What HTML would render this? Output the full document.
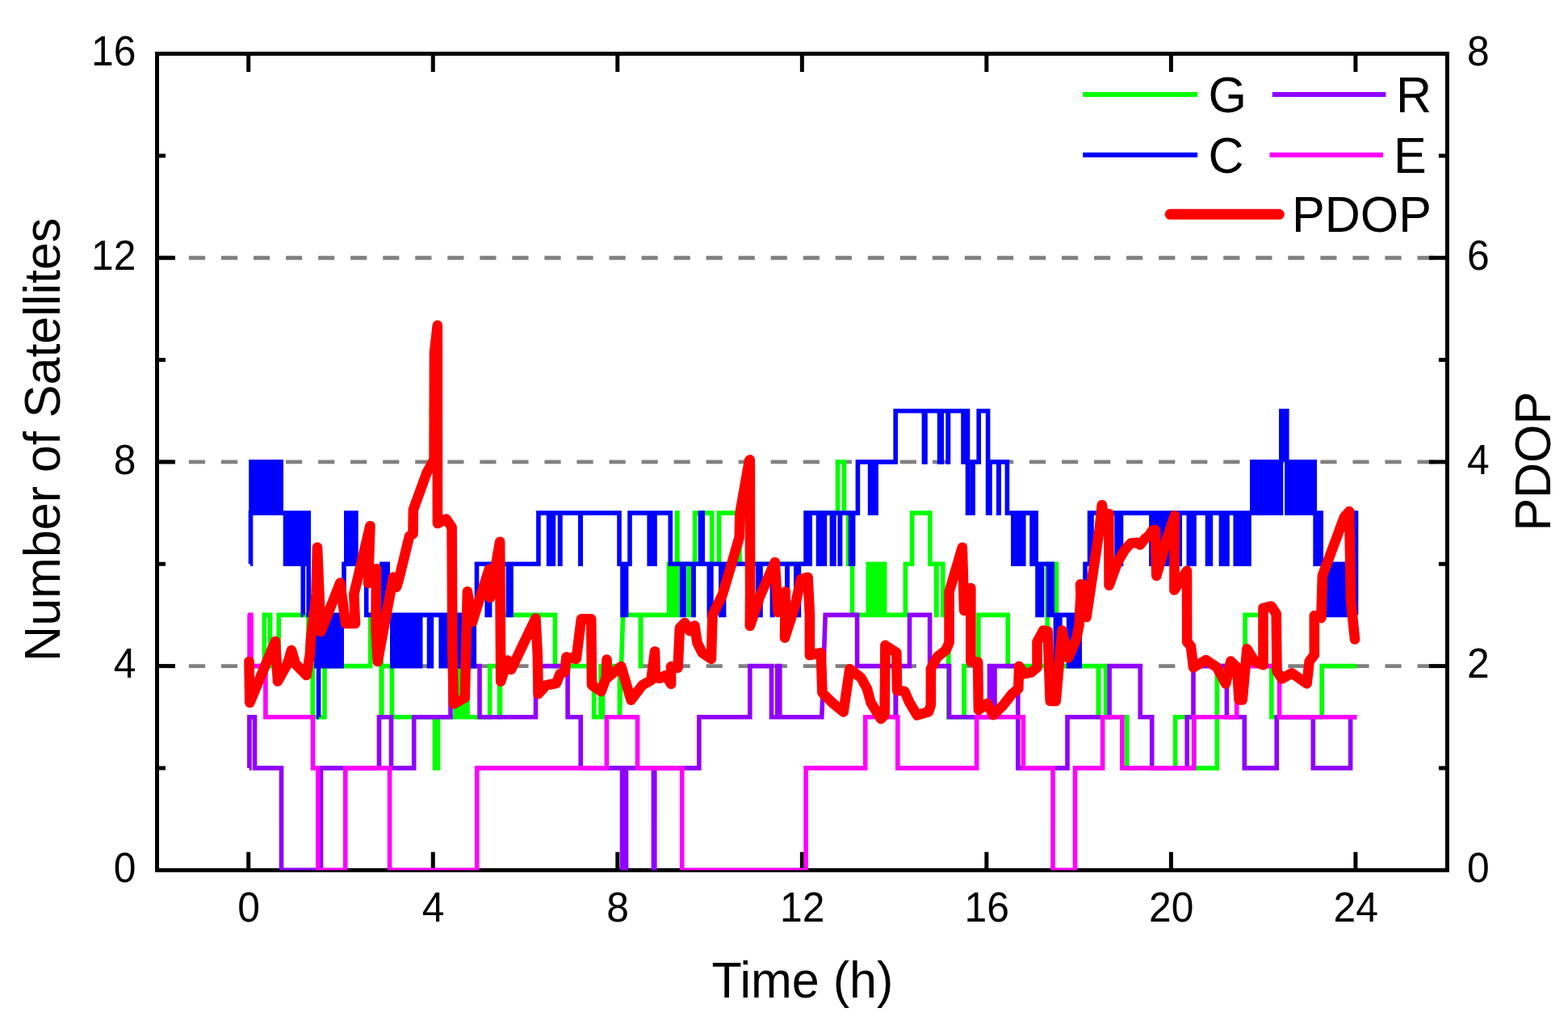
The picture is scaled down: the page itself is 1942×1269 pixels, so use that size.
<!DOCTYPE html>
<html lang="en"><head><meta charset="utf-8"><title>Number of Satellites and PDOP</title>
<style>html,body{margin:0;padding:0;background:#fff;}body{width:1942px;height:1269px;overflow:hidden;}svg{display:block;}text{font-family:"Liberation Sans",Arial,Helvetica,sans-serif;fill:#000;}.tk{font-size:49.8px;}.tt{font-size:61px;}.lg{font-size:61px;}</style></head><body>
<svg width="1942" height="1269" viewBox="0 0 1942 1269" role="img" aria-label="Number of satellites (G, R, C, E) and PDOP versus time">
<rect x="0" y="0" width="1942" height="1269" fill="#ffffff"/>
<g stroke="#808080" stroke-width="4.9" fill="none" stroke-dasharray="20.2 19.84">
<line x1="193.90" y1="824.60" x2="1792.40" y2="824.60"/>
<line x1="193.90" y1="571.90" x2="1792.40" y2="571.90"/>
<line x1="193.90" y1="319.20" x2="1792.40" y2="319.20"/>
</g>
<g stroke="#000" stroke-width="5.0" fill="none" stroke-linecap="butt">
<rect x="194.50" y="66.50" width="1597.90" height="1010.80"/>
<line x1="307.75" y1="1077.30" x2="307.75" y2="1054.80"/>
<line x1="307.75" y1="66.50" x2="307.75" y2="89.00"/>
<line x1="536.27" y1="1077.30" x2="536.27" y2="1054.80"/>
<line x1="536.27" y1="66.50" x2="536.27" y2="89.00"/>
<line x1="764.80" y1="1077.30" x2="764.80" y2="1054.80"/>
<line x1="764.80" y1="66.50" x2="764.80" y2="89.00"/>
<line x1="993.33" y1="1077.30" x2="993.33" y2="1054.80"/>
<line x1="993.33" y1="66.50" x2="993.33" y2="89.00"/>
<line x1="1221.85" y1="1077.30" x2="1221.85" y2="1054.80"/>
<line x1="1221.85" y1="66.50" x2="1221.85" y2="89.00"/>
<line x1="1450.38" y1="1077.30" x2="1450.38" y2="1054.80"/>
<line x1="1450.38" y1="66.50" x2="1450.38" y2="89.00"/>
<line x1="1678.90" y1="1077.30" x2="1678.90" y2="1054.80"/>
<line x1="1678.90" y1="66.50" x2="1678.90" y2="89.00"/>
<line x1="194.50" y1="824.60" x2="217.00" y2="824.60"/>
<line x1="1792.40" y1="824.60" x2="1769.90" y2="824.60"/>
<line x1="194.50" y1="571.90" x2="217.00" y2="571.90"/>
<line x1="1792.40" y1="571.90" x2="1769.90" y2="571.90"/>
<line x1="194.50" y1="319.20" x2="217.00" y2="319.20"/>
<line x1="1792.40" y1="319.20" x2="1769.90" y2="319.20"/>
<line x1="194.50" y1="950.95" x2="205.00" y2="950.95"/>
<line x1="1792.40" y1="950.95" x2="1781.90" y2="950.95"/>
<line x1="194.50" y1="698.25" x2="205.00" y2="698.25"/>
<line x1="1792.40" y1="698.25" x2="1781.90" y2="698.25"/>
<line x1="194.50" y1="445.55" x2="205.00" y2="445.55"/>
<line x1="1792.40" y1="445.55" x2="1781.90" y2="445.55"/>
<line x1="194.50" y1="192.85" x2="205.00" y2="192.85"/>
<line x1="1792.40" y1="192.85" x2="1781.90" y2="192.85"/>
</g>
<clipPath id="pc"><rect x="194.50" y="66.50" width="1597.90" height="1010.80"/></clipPath>
<g clip-path="url(#pc)">
<g fill="none" stroke="#00ff00" stroke-width="5.6" stroke-linejoin="miter" stroke-linecap="butt">
<polyline points="310.0,824.6 327.4,824.6 327.4,761.4 334.5,761.4 334.5,824.6 345.2,824.6 345.2,761.4 382.0,761.4 382.0,824.6 387.3,824.6 387.3,887.8 402.0,887.8 402.0,824.6 458.7,824.6 458.7,761.4 472.3,761.4 472.3,887.8 472.8,887.8 472.8,824.6 485.4,824.6 485.4,887.8 538.5,887.8 538.5,950.9 542.5,950.9 542.5,887.8 564.0,887.8 564.0,824.6 567.5,824.6 567.5,887.8 570.5,887.8 570.5,824.6 573.5,824.6 573.5,887.8 576.0,887.8 576.0,824.6 579.0,824.6 579.0,887.8 606.6,887.8 606.6,824.6 618.6,824.6 618.6,887.8 619.4,887.8 619.4,761.4 687.4,761.4 687.4,824.6 735.6,824.6 735.6,887.8 744.0,887.8 744.0,824.6 745.0,824.6 745.0,887.8 746.5,887.8 746.5,824.6 767.4,824.6 767.4,887.8 767.4,887.8 771.6,761.4 793.3,761.4 793.3,824.6 793.7,824.6 793.7,761.4 828.6,761.4 828.6,698.2 831.0,698.2 831.0,761.4 833.5,761.4 833.5,698.2 836.0,698.2 836.0,761.4 838.5,761.4 838.5,635.1 839.0,635.1 839.0,698.2 853.0,698.2 853.0,761.4 853.4,761.4 853.4,698.2 860.6,698.2 860.6,635.1 881.7,635.1 881.7,698.2 890.5,698.2 890.5,635.1 916.0,635.1 916.0,698.2 1000.0,698.2 1000.0,635.1 1037.5,635.1 1037.5,571.9 1045.5,571.9 1045.5,635.1 1050.5,635.1 1050.5,698.2 1055.5,698.2 1055.5,761.4 1075.3,761.4 1075.3,698.2 1077.8,698.2 1077.8,761.4 1080.3,761.4 1080.3,698.2 1082.8,698.2 1082.8,761.4 1085.2,761.4 1085.2,698.2 1087.7,698.2 1087.7,761.4 1090.2,761.4 1090.2,698.2 1092.7,698.2 1092.7,761.4 1095.2,761.4 1095.2,698.2 1095.6,698.2 1095.6,761.4 1121.4,761.4 1121.4,698.2 1129.6,698.2 1129.6,635.1 1151.8,635.1 1151.8,698.2 1159.5,698.2 1159.5,761.4 1159.9,761.4 1159.9,698.2 1167.8,698.2 1167.8,761.4 1174.8,761.4 1174.8,887.8 1193.9,887.8 1193.9,824.6 1194.3,824.6 1194.3,887.8 1211.9,887.8 1211.9,761.4 1248.2,761.4 1248.2,824.6 1297.2,824.6 1297.2,698.2 1308.4,698.2 1308.4,824.6 1360.3,824.6 1360.3,887.8 1360.7,887.8 1360.7,824.6 1369.5,824.6 1369.5,887.8 1395.7,887.8 1395.7,950.9 1455.6,950.9 1455.6,887.8 1479.0,887.8 1479.0,950.9 1507.3,950.9 1507.3,824.6 1542.1,824.6 1542.1,761.4 1564.5,761.4 1564.5,824.6 1574.8,824.6 1574.8,887.8 1637.1,887.8 1637.1,824.6 1680.3,824.6"/>
</g>
<g fill="none" stroke="#9000ff" stroke-width="5.6" stroke-linejoin="miter" stroke-linecap="butt">
<polyline points="308.8,950.9 308.9,950.9 308.9,887.8 315.5,887.8 315.5,950.9 348.5,950.9 348.5,1077.3 397.5,1077.3 397.5,950.9 469.5,950.9 469.5,887.8 484.5,887.8 484.5,950.9 512.7,950.9 512.7,887.8 558.0,887.8 558.0,824.6 594.0,824.6 594.0,887.8 663.5,887.8 663.5,824.6 703.1,824.6 703.1,887.8 719.2,887.8 719.2,950.9 770.5,950.9 770.5,1077.3 775.5,1077.3 775.5,950.9 809.4,950.9 809.4,1077.3 810.8,1077.3 810.8,950.9 865.8,950.9 865.8,887.8 928.8,887.8 928.8,824.6 955.5,824.6 955.5,887.8 962.7,887.8 962.7,824.6 965.8,824.6 965.8,887.8 1017.8,887.8 1022.2,761.4 1061.6,761.4 1061.6,824.6 1109.2,824.6 1109.2,887.8 1109.6,887.8 1109.6,824.6 1126.5,824.6 1126.5,761.4 1151.6,761.4 1151.6,824.6 1175.6,824.6 1175.6,887.8 1225.5,887.8 1225.5,824.6 1228.5,824.6 1228.5,887.8 1232.0,887.8 1232.0,824.6 1260.8,824.6 1260.8,950.9 1322.0,950.9 1322.0,887.8 1374.1,887.8 1374.1,824.6 1412.2,824.6 1412.2,887.8 1426.7,887.8 1426.7,950.9 1470.2,950.9 1470.2,887.8 1478.0,887.8 1478.0,824.6 1519.4,824.6 1519.4,887.8 1541.3,887.8 1541.3,950.9 1581.2,950.9 1581.2,887.8 1626.3,887.8 1626.3,950.9 1672.6,950.9 1672.6,887.8 1680.3,887.8"/>
</g>
<g fill="none" stroke="#0000ff" stroke-width="5.6" stroke-linejoin="miter" stroke-linecap="butt">
<polyline points="310.0,698.2 310.5,698.2 310.5,635.1 311.0,635.1 311.0,571.9 313.5,571.9 313.5,635.1 316.0,635.1 316.0,571.9 318.4,571.9 318.4,635.1 320.9,635.1 320.9,571.9 323.4,571.9 323.4,635.1 325.9,635.1 325.9,571.9 328.4,571.9 328.4,635.1 330.8,635.1 330.8,571.9 333.3,571.9 333.3,635.1 335.8,635.1 335.8,571.9 338.3,571.9 338.3,635.1 340.8,635.1 340.8,571.9 343.2,571.9 343.2,635.1 345.7,635.1 345.7,571.9 348.2,571.9 348.2,635.1 348.6,635.1 348.6,635.1 351.0,635.1 351.0,635.1 353.5,635.1 353.5,698.2 356.1,698.2 356.1,635.1 358.6,635.1 358.6,698.2 361.1,698.2 361.1,635.1 363.7,635.1 363.7,698.2 366.2,698.2 366.2,635.1 368.7,635.1 368.7,698.2 371.3,698.2 371.3,635.1 373.8,635.1 373.8,698.2 376.3,698.2 376.3,635.1 378.9,635.1 378.9,698.2 381.4,698.2 381.4,635.1 382.2,635.1 382.2,761.4 391.8,761.4 391.8,824.6 394.2,824.6 394.2,761.4 396.6,761.4 396.6,824.6 399.0,824.6 399.0,761.4 401.5,761.4 401.5,824.6 403.9,824.6 403.9,761.4 406.3,761.4 406.3,824.6 408.7,824.6 408.7,761.4 411.1,761.4 411.1,824.6 413.5,824.6 413.5,761.4 416.0,761.4 416.0,824.6 418.4,824.6 418.4,761.4 420.8,761.4 420.8,824.6 423.2,824.6 423.2,761.4 423.5,761.4 423.5,761.4 426.0,761.4 426.0,698.2 428.8,698.2 428.8,635.1 431.2,635.1 431.2,698.2 433.6,698.2 433.6,635.1 436.1,635.1 436.1,698.2 438.5,698.2 438.5,635.1 440.9,635.1 440.9,698.2 441.2,698.2 441.2,698.2 453.7,698.2 453.7,761.4 472.8,761.4 472.8,698.2 475.3,698.2 475.3,761.4 477.7,761.4 477.7,698.2 480.2,698.2 480.2,761.4 480.4,761.4 480.4,761.4 485.8,761.4 485.8,824.6 488.3,824.6 488.3,761.4 490.8,761.4 490.8,824.6 493.2,824.6 493.2,761.4 495.7,761.4 495.7,824.6 498.2,824.6 498.2,761.4 500.7,761.4 500.7,824.6 503.1,824.6 503.1,761.4 505.6,761.4 505.6,824.6 508.1,824.6 508.1,761.4 510.6,761.4 510.6,824.6 513.1,824.6 513.1,761.4 515.5,761.4 515.5,824.6 518.0,824.6 518.0,761.4 520.5,761.4 520.5,824.6 520.7,824.6 520.7,761.4 531.5,761.4 531.5,824.6 534.4,824.6 534.4,761.4 534.6,761.4 534.6,761.4 546.2,761.4 546.2,824.6 548.8,824.6 548.8,761.4 551.3,761.4 551.3,824.6 553.9,824.6 553.9,761.4 556.4,761.4 556.4,824.6 559.0,824.6 559.0,761.4 561.5,761.4 561.5,824.6 564.1,824.6 564.1,761.4 566.6,761.4 566.6,824.6 569.1,824.6 569.1,761.4 571.7,761.4 571.7,824.6 574.2,824.6 574.2,761.4 576.8,761.4 576.8,824.6 579.4,824.6 579.4,761.4 581.9,761.4 581.9,824.6 584.5,824.6 584.5,761.4 587.0,761.4 587.0,824.6 587.3,824.6 587.3,761.4 590.5,761.4 590.5,698.2 603.2,698.2 603.2,761.4 603.6,761.4 603.6,698.2 606.2,698.2 606.2,761.4 606.6,761.4 606.6,698.2 629.4,698.2 629.4,761.4 629.8,761.4 629.8,698.2 632.6,698.2 632.6,761.4 633.0,761.4 633.0,698.2 666.9,698.2 666.9,635.1 679.6,635.1 679.6,698.2 680.0,698.2 680.0,635.1 685.0,635.1 685.0,698.2 685.4,698.2 685.4,635.1 693.5,635.1 693.5,698.2 693.9,698.2 693.9,635.1 718.8,635.1 718.8,698.2 719.2,698.2 719.2,635.1 767.0,635.1 767.0,698.2 771.0,698.2 771.0,761.4 775.6,761.4 775.6,698.2 780.0,698.2 780.0,635.1 804.2,635.1 804.2,698.2 806.5,698.2 806.5,635.1 808.7,635.1 808.7,698.2 811.0,698.2 811.0,635.1 811.3,635.1 811.3,635.1 830.3,635.1 830.3,698.2 844.4,698.2 844.4,761.4 844.8,761.4 844.8,698.2 846.6,698.2 846.6,761.4 847.0,761.4 847.0,698.2 858.7,698.2 858.7,761.4 859.1,761.4 859.1,698.2 867.4,698.2 867.4,635.1 870.2,635.1 870.2,698.2 878.3,698.2 878.3,761.4 878.7,761.4 878.7,698.2 880.5,698.2 880.5,761.4 880.9,761.4 880.9,698.2 892.8,698.2 892.8,761.4 893.2,761.4 893.2,698.2 896.2,698.2 896.2,761.4 896.6,761.4 896.6,698.2 938.7,698.2 938.7,761.4 939.1,761.4 939.1,698.2 941.6,698.2 941.6,761.4 942.0,761.4 942.0,698.2 956.4,698.2 956.4,761.4 956.8,761.4 956.8,698.2 974.8,698.2 974.8,761.4 975.2,761.4 975.2,698.2 985.8,698.2 985.8,761.4 986.2,761.4 986.2,698.2 989.0,698.2 989.0,761.4 989.4,761.4 989.4,698.2 998.0,698.2 998.0,635.1 1000.5,635.1 1000.5,698.2 1003.2,698.2 1003.2,635.1 1013.5,635.1 1013.5,698.2 1014.0,698.2 1014.0,635.1 1015.0,635.1 1015.0,698.2 1015.4,698.2 1015.4,635.1 1019.6,635.1 1019.6,698.2 1020.0,698.2 1020.0,635.1 1021.0,635.1 1021.0,698.2 1021.4,698.2 1021.4,635.1 1030.4,635.1 1030.4,698.2 1030.8,698.2 1030.8,635.1 1032.5,635.1 1032.5,698.2 1032.9,698.2 1032.9,635.1 1040.2,635.1 1040.2,698.2 1040.6,698.2 1040.6,635.1 1053.6,635.1 1053.6,698.2 1054.0,698.2 1054.0,635.1 1056.2,635.1 1056.2,698.2 1056.6,698.2 1056.6,635.1 1062.4,635.1 1062.4,571.9 1077.6,571.9 1077.6,635.1 1080.1,635.1 1080.1,571.9 1082.6,571.9 1082.6,635.1 1085.1,635.1 1085.1,571.9 1085.3,571.9 1085.3,571.9 1109.2,571.9 1109.2,508.7 1144.4,508.7 1144.4,571.9 1144.8,571.9 1144.8,508.7 1145.6,508.7 1145.6,571.9 1146.0,571.9 1146.0,508.7 1163.6,508.7 1163.6,571.9 1164.0,571.9 1164.0,508.7 1165.8,508.7 1165.8,571.9 1166.2,571.9 1166.2,508.7 1174.1,508.7 1174.1,571.9 1174.5,571.9 1174.5,508.7 1193.0,508.7 1193.0,571.9 1193.4,571.9 1193.4,508.7 1196.0,508.7 1196.0,571.9 1196.4,571.9 1196.4,508.7 1198.5,508.7 1198.5,635.1 1199.0,635.1 1199.0,571.9 1204.7,571.9 1204.7,635.1 1205.1,635.1 1205.1,571.9 1212.2,571.9 1212.2,508.7 1223.6,508.7 1223.6,635.1 1226.0,635.1 1226.0,571.9 1236.7,571.9 1236.7,635.1 1237.1,635.1 1237.1,571.9 1247.4,571.9 1247.4,635.1 1254.8,635.1 1254.8,698.2 1257.4,698.2 1257.4,635.1 1260.0,635.1 1260.0,698.2 1262.6,698.2 1262.6,635.1 1265.2,635.1 1265.2,698.2 1267.8,698.2 1267.8,635.1 1268.0,635.1 1268.0,635.1 1278.0,635.1 1278.0,698.2 1280.6,698.2 1280.6,635.1 1283.2,635.1 1283.2,698.2 1283.5,698.2 1283.5,698.2 1285.0,698.2 1285.0,761.4 1287.6,761.4 1287.6,698.2 1290.2,698.2 1290.2,761.4 1290.5,761.4 1290.5,698.2 1298.8,698.2 1298.8,761.4 1301.0,761.4 1301.0,698.2 1303.2,698.2 1303.2,761.4 1303.4,761.4 1303.4,761.4 1307.4,761.4 1307.4,824.6 1310.0,824.6 1310.0,761.4 1312.6,761.4 1312.6,824.6 1312.9,824.6 1312.9,761.4 1323.6,761.4 1323.6,824.6 1326.3,824.6 1326.3,761.4 1329.0,761.4 1329.0,824.6 1331.8,824.6 1331.8,761.4 1334.5,761.4 1334.5,824.6 1337.2,824.6 1337.2,761.4 1337.4,761.4 1337.4,761.4 1344.0,761.4 1344.0,698.2 1349.6,698.2 1349.6,635.1 1351.6,635.1 1351.6,698.2 1352.0,698.2 1352.0,635.1 1383.1,635.1 1383.1,698.2 1385.7,698.2 1385.7,635.1 1388.2,635.1 1388.2,698.2 1388.5,698.2 1388.5,635.1 1425.9,635.1 1425.9,698.2 1426.5,698.2 1426.5,635.1 1426.7,635.1 1426.7,635.1 1432.0,635.1 1432.0,698.2 1434.3,698.2 1434.3,635.1 1436.7,635.1 1436.7,698.2 1439.0,698.2 1439.0,635.1 1439.3,635.1 1439.3,635.1 1444.5,635.1 1444.5,698.2 1446.9,698.2 1446.9,635.1 1449.3,635.1 1449.3,698.2 1451.7,698.2 1451.7,635.1 1454.0,635.1 1454.0,698.2 1456.4,698.2 1456.4,635.1 1458.8,635.1 1458.8,698.2 1461.2,698.2 1461.2,635.1 1461.5,635.1 1461.5,635.1 1472.3,635.1 1472.3,698.2 1474.5,698.2 1474.5,635.1 1476.8,635.1 1476.8,698.2 1479.0,698.2 1479.0,635.1 1479.3,635.1 1479.3,635.1 1495.5,635.1 1495.5,698.2 1497.3,698.2 1497.3,635.1 1499.1,635.1 1499.1,698.2 1499.4,698.2 1499.4,635.1 1512.4,635.1 1512.4,698.2 1514.9,698.2 1514.9,635.1 1517.5,635.1 1517.5,698.2 1520.0,698.2 1520.0,635.1 1520.3,635.1 1520.3,635.1 1530.2,635.1 1530.2,698.2 1532.6,698.2 1532.6,635.1 1535.0,635.1 1535.0,698.2 1537.4,698.2 1537.4,635.1 1539.8,635.1 1539.8,698.2 1542.2,698.2 1542.2,635.1 1544.6,635.1 1544.6,698.2 1547.0,698.2 1547.0,635.1 1547.3,635.1 1547.3,635.1 1548.2,635.1 1548.2,635.1 1550.8,635.1 1550.8,571.9 1553.3,571.9 1553.3,635.1 1555.9,635.1 1555.9,571.9 1558.4,571.9 1558.4,635.1 1561.0,635.1 1561.0,571.9 1563.5,571.9 1563.5,635.1 1566.1,635.1 1566.1,571.9 1568.6,571.9 1568.6,635.1 1571.2,635.1 1571.2,571.9 1573.7,571.9 1573.7,635.1 1576.3,635.1 1576.3,571.9 1578.8,571.9 1578.8,635.1 1581.4,635.1 1581.4,571.9 1583.9,571.9 1583.9,635.1 1586.5,635.1 1586.5,571.9 1586.8,571.9 1586.8,508.7 1593.8,508.7 1593.8,635.1 1594.0,635.1 1594.0,635.1 1596.4,635.1 1596.4,571.9 1598.9,571.9 1598.9,635.1 1601.3,635.1 1601.3,571.9 1603.8,571.9 1603.8,635.1 1606.2,635.1 1606.2,571.9 1608.7,571.9 1608.7,635.1 1611.1,635.1 1611.1,571.9 1613.5,571.9 1613.5,635.1 1616.0,635.1 1616.0,571.9 1618.4,571.9 1618.4,635.1 1620.9,635.1 1620.9,571.9 1623.3,571.9 1623.3,635.1 1625.8,635.1 1625.8,571.9 1628.2,571.9 1628.2,635.1 1628.5,635.1 1628.5,635.1 1629.1,635.1 1629.1,698.2 1631.3,698.2 1631.3,635.1 1633.6,635.1 1633.6,698.2 1635.8,698.2 1635.8,635.1 1636.2,635.1 1636.2,698.2 1642.8,698.2 1642.8,761.4 1645.3,761.4 1645.3,698.2 1647.8,698.2 1647.8,761.4 1650.4,761.4 1650.4,698.2 1652.9,698.2 1652.9,761.4 1655.4,761.4 1655.4,698.2 1657.9,698.2 1657.9,761.4 1660.4,761.4 1660.4,698.2 1663.0,698.2 1663.0,761.4 1665.5,761.4 1665.5,698.2 1668.0,698.2 1668.0,761.4 1670.0,761.4 1670.0,761.4 1672.4,761.4 1672.4,635.1 1674.8,635.1 1674.8,761.4 1677.1,761.4 1677.1,635.1 1679.5,635.1 1679.5,761.4 1680.5,761.4"/>
<polyline points="375.3,698.2 375.3,698.2 375.3,761.4 375.4,761.4"/>
<polyline points="394.6,824.6 394.6,824.6 394.6,887.8 394.7,887.8"/>
<polyline points="1590.3,571.9 1590.3,571.9 1590.3,508.7 1590.4,508.7"/>
</g>
<g fill="none" stroke="#ff00ff" stroke-width="5.6" stroke-linejoin="miter" stroke-linecap="butt">
<polyline points="309.0,761.4 309.1,761.4 309.1,824.6 309.6,824.6 309.6,761.4 311.1,761.4 311.1,824.6 328.9,824.6 328.9,887.8 387.5,887.8 387.5,950.9 393.8,950.9 393.8,1077.3 427.8,1077.3 427.8,950.9 482.6,950.9 482.6,1077.3 590.7,1077.3 590.7,950.9 751.4,950.9 751.4,887.8 789.5,887.8 789.5,950.9 844.7,950.9 844.7,1077.3 998.1,1077.3 998.1,950.9 1071.7,950.9 1071.7,887.8 1111.8,887.8 1111.8,950.9 1209.6,950.9 1209.6,887.8 1267.4,887.8 1267.4,950.9 1304.0,950.9 1304.0,1077.3 1331.5,1077.3 1331.5,950.9 1365.6,950.9 1365.6,887.8 1389.8,887.8 1389.8,950.9 1478.7,950.9 1478.7,887.8 1531.7,887.8 1531.7,824.6 1584.6,824.6 1584.6,887.8 1680.3,887.8"/>
</g>
<polyline fill="none" stroke="#ff0000" stroke-width="12.6" stroke-linejoin="round" stroke-linecap="round" points="308.5,819.0 309.3,870.0 341.0,794.0 344.0,843.5 356.0,822.0 361.0,805.0 366.0,822.0 379.6,836.0 383.8,811.0 385.0,791.0 387.0,772.0 390.0,752.0 391.5,735.0 393.0,677.5 397.4,782.0 421.3,721.6 428.0,772.0 440.0,772.0 438.3,736.0 458.4,651.2 456.0,722.0 466.0,704.0 465.5,780.0 467.7,819.0 487.0,714.6 491.0,727.0 494.0,717.0 507.1,663.6 511.5,661.0 511.9,631.0 528.7,584.8 537.6,569.0 538.0,437.0 541.8,402.8 541.9,648.0 552.6,642.7 559.6,652.8 560.4,808.0 561.9,871.5 575.8,863.8 578.9,732.4 585.0,770.0 605.7,704.8 607.0,740.0 619.1,670.8 620.2,843.7 628.5,817.5 633.0,829.0 663.4,765.5 665.8,810.0 666.6,859.1 676.6,848.3 689.0,846.0 693.6,834.4 699.8,831.3 701.3,813.5 713.7,815.9 719.9,766.4 732.2,766.4 733.0,848.3 744.6,856.0 750.8,839.0 751.5,816.6 752.3,839.0 769.3,825.1 781.6,866.8 795.6,848.3 806.4,842.1 811.0,806.6 811.8,839.0 817.2,839.8 824.9,836.0 831.1,846.8 831.1,825.1 839.6,826.7 841.9,777.2 848.1,771.1 854.0,781.0 860.4,774.5 863.5,795.8 869.7,808.1 880.9,815.9 882.4,761.8 894.9,736.0 905.6,700.0 915.7,665.1 916.4,635.8 928.0,570.1 928.8,569.4 929.1,736.0 928.8,774.9 941.1,738.6 959.7,696.0 963.5,758.0 972.8,732.4 972.0,789.6 984.4,751.0 992.1,717.0 1000.6,714.7 1002.9,761.8 1002.9,811.2 1016.8,808.1 1018.4,857.6 1030.7,869.9 1044.6,881.5 1052.4,828.2 1066.3,839.0 1074.0,852.9 1078.6,869.9 1091.0,890.0 1095.6,885.4 1096.4,798.9 1110.3,808.1 1111.1,854.5 1120.4,856.0 1126.5,869.9 1135.8,885.4 1150.1,881.2 1152.9,872.7 1152.9,827.9 1160.9,813.2 1171.7,804.7 1175.6,795.4 1175.6,732.7 1191.8,677.8 1194.1,755.9 1202.3,728.1 1202.3,819.0 1211.1,819.5 1211.9,878.9 1222.7,871.1 1230.4,885.1 1242.8,872.7 1253.6,858.8 1261.3,852.6 1262.1,824.8 1269.0,834.1 1276.8,832.5 1284.5,826.3 1284.5,794.5 1292.2,780.6 1297.6,781.4 1300.7,868.0 1307.7,868.0 1315.4,780.6 1323.1,814.6 1332.8,792.4 1336.6,773.5 1338.5,735.6 1338.0,723.4 1344.7,725.0 1345.5,764.0 1361.7,655.4 1364.8,625.2 1368.0,646.0 1373.3,636.0 1373.6,724.8 1384.2,695.8 1393.1,680.7 1400.6,672.5 1408.2,671.9 1412.0,674.4 1418.3,666.8 1423.3,663.0 1427.1,656.7 1430.9,656.1 1432.3,712.9 1445.5,666.3 1454.8,638.5 1454.4,730.5 1470.0,706.6 1470.2,794.6 1474.9,800.1 1478.0,826.3 1493.4,817.1 1507.0,826.0 1518.1,846.4 1524.3,818.6 1532.0,826.3 1534.6,866.5 1538.8,866.5 1544.4,803.2 1553.7,818.6 1564.5,823.3 1564.5,752.9 1574.5,750.5 1580.7,760.0 1581.5,831.0 1587.7,840.3 1600.0,833.3 1618.6,846.4 1621.7,818.6 1627.8,810.9 1627.8,762.1 1636.3,765.2 1637.9,712.7 1664.9,640.1 1671.1,633.1 1673.1,743.6 1678.0,791.5"/>
</g>
<text class="tk" text-anchor="end" transform="translate(168.40 1091.90) scale(1 1.055)">0</text>
<text class="tk" text-anchor="start" transform="translate(1817.00 1091.90) scale(1 1.055)">0</text>
<text class="tk" text-anchor="end" transform="translate(168.40 839.20) scale(1 1.055)">4</text>
<text class="tk" text-anchor="start" transform="translate(1817.00 839.20) scale(1 1.055)">2</text>
<text class="tk" text-anchor="end" transform="translate(168.40 586.50) scale(1 1.055)">8</text>
<text class="tk" text-anchor="start" transform="translate(1817.00 586.50) scale(1 1.055)">4</text>
<text class="tk" text-anchor="end" transform="translate(168.40 333.80) scale(1 1.055)">12</text>
<text class="tk" text-anchor="start" transform="translate(1817.00 333.80) scale(1 1.055)">6</text>
<text class="tk" text-anchor="end" transform="translate(168.40 81.10) scale(1 1.055)">16</text>
<text class="tk" text-anchor="start" transform="translate(1817.00 81.10) scale(1 1.055)">8</text>
<text class="tk" text-anchor="middle" transform="translate(308.15 1140.60) scale(1 1.055)">0</text>
<text class="tk" text-anchor="middle" transform="translate(536.67 1140.60) scale(1 1.055)">4</text>
<text class="tk" text-anchor="middle" transform="translate(765.20 1140.60) scale(1 1.055)">8</text>
<text class="tk" text-anchor="middle" transform="translate(993.73 1140.60) scale(1 1.055)">12</text>
<text class="tk" text-anchor="middle" transform="translate(1222.25 1140.60) scale(1 1.055)">16</text>
<text class="tk" text-anchor="middle" transform="translate(1450.78 1140.60) scale(1 1.055)">20</text>
<text class="tk" text-anchor="middle" transform="translate(1679.30 1140.60) scale(1 1.055)">24</text>
<text class="tt" text-anchor="middle" transform="translate(993.90 1235.00) scale(1 1.02)">Time (h)</text>
<text class="tt" text-anchor="middle" transform="translate(74.00 544.30) rotate(-90) scale(1 1.02)">Number of Satellites</text>
<text class="tt" text-anchor="middle" transform="translate(1920.30 571.20) rotate(-90) scale(1 1.04)">PDOP</text>
<line x1="1341.20" y1="117.00" x2="1483.20" y2="117.00" stroke="#00ff00" stroke-width="6.0" stroke-linecap="butt"/>
<text class="lg" text-anchor="start" transform="translate(1496.50 139.00) scale(1 1.04)">G</text>
<line x1="1575.80" y1="117.00" x2="1716.40" y2="117.00" stroke="#9000ff" stroke-width="6.0" stroke-linecap="butt"/>
<text class="lg" text-anchor="start" transform="translate(1729.00 139.00) scale(1 1.04)">R</text>
<line x1="1341.20" y1="191.70" x2="1483.20" y2="191.70" stroke="#0000ff" stroke-width="6.0" stroke-linecap="butt"/>
<text class="lg" text-anchor="start" transform="translate(1496.50 213.60) scale(1 1.04)">C</text>
<line x1="1572.50" y1="191.70" x2="1713.00" y2="191.70" stroke="#ff00ff" stroke-width="6.0" stroke-linecap="butt"/>
<text class="lg" text-anchor="start" transform="translate(1726.00 213.60) scale(1 1.04)">E</text>
<line x1="1449.20" y1="265.30" x2="1584.30" y2="265.30" stroke="#ff0000" stroke-width="13.0" stroke-linecap="round"/>
<text class="lg" text-anchor="start" transform="translate(1600.00 287.00) scale(1 1.04)">PDOP</text>
</svg></body></html>
